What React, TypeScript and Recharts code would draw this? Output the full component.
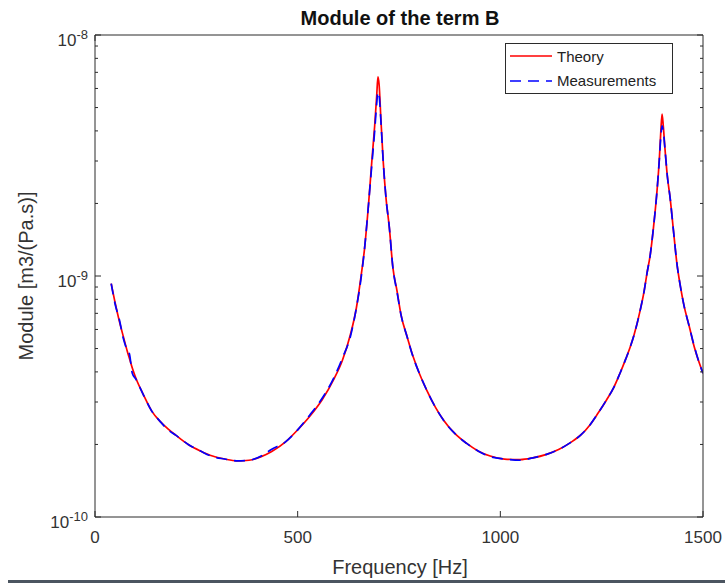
import { Legend, Line, LineChart, XAxis, YAxis } from 'recharts';

// frequency [Hz]
const FREQ = [
  40, 50, 60, 70, 80, 85, 92, 100, 120, 140,
  160, 180, 200, 230, 260, 290, 320, 350, 380, 410,
  436, 470, 500, 530, 560, 590, 610, 630, 645, 655,
  665, 675, 683, 690, 695, 698, 701, 705, 711, 718,
  726, 735, 745, 755, 770, 785, 800, 818, 840, 860,
  890, 917, 945, 975, 1010, 1049, 1080, 1114, 1145, 1172,
  1200, 1221, 1240, 1262, 1280, 1295, 1310, 1320, 1330, 1345,
  1355, 1362, 1370, 1378, 1386, 1392, 1396, 1399, 1402, 1406,
  1412, 1419, 1427, 1435, 1445, 1452, 1468, 1476, 1488, 1500,
];

// module [m3/(Pa.s)]
const THEORY = [
  9.3e-10, 7.7e-10, 6.5e-10, 5.6e-10, 4.85e-10, 4.55e-10, 4.15e-10, 3.8e-10, 3.2e-10, 2.75e-10,
  2.5e-10, 2.32e-10, 2.18e-10, 2.0e-10, 1.88e-10, 1.79e-10, 1.74e-10, 1.71e-10, 1.72e-10, 1.78e-10,
  1.87e-10, 2.05e-10, 2.3e-10, 2.62e-10, 3.06e-10, 3.75e-10, 4.45e-10, 5.7e-10, 7.4e-10, 9.6e-10,
  1.3e-9, 2.0e-9, 3.0e-9, 4.2e-9, 5.6e-9, 6.7e-9, 6.2e-9, 4.6e-9, 3.0e-9, 2.1e-9,
  1.6e-9, 1.08e-9, 8.7e-10, 6.9e-10, 5.6e-10, 4.62e-10, 3.95e-10, 3.37e-10, 2.85e-10, 2.52e-10,
  2.2e-10, 2.02e-10, 1.88e-10, 1.79e-10, 1.74e-10, 1.73e-10, 1.76e-10, 1.82e-10, 1.91e-10, 2.03e-10,
  2.2e-10, 2.41e-10, 2.68e-10, 3.06e-10, 3.45e-10, 3.94e-10, 4.55e-10, 5.05e-10, 5.7e-10, 7.2e-10,
  8.7e-10, 1.03e-9, 1.23e-9, 1.6e-9, 2.2e-9, 3.0e-9, 4.0e-9, 4.7e-9, 4.2e-9, 3.4e-9,
  2.6e-9, 2.1e-9, 1.55e-9, 1.15e-9, 8.9e-10, 7.7e-10, 6.0e-10, 5.26e-10, 4.5e-10, 3.95e-10,
];

const MEASURED = [
  9.3e-10, 7.6e-10, 6.6e-10, 5.5e-10, 4.9e-10, 4.75e-10, 3.95e-10, 3.75e-10, 3.2e-10, 2.75e-10,
  2.5e-10, 2.3e-10, 2.18e-10, 2.0e-10, 1.88e-10, 1.78e-10, 1.74e-10, 1.71e-10, 1.72e-10, 1.79e-10,
  1.91e-10, 2.05e-10, 2.3e-10, 2.65e-10, 3.1e-10, 3.8e-10, 4.55e-10, 5.6e-10, 7.4e-10, 9.4e-10,
  1.3e-9, 2.0e-9, 2.9e-9, 4.0e-9, 5.2e-9, 5.8e-9, 5.6e-9, 4.5e-9, 3.0e-9, 2.1e-9,
  1.6e-9, 1.08e-9, 8.6e-10, 6.9e-10, 5.6e-10, 4.6e-10, 3.95e-10, 3.37e-10, 2.85e-10, 2.52e-10,
  2.2e-10, 2.02e-10, 1.88e-10, 1.78e-10, 1.74e-10, 1.72e-10, 1.76e-10, 1.82e-10, 1.91e-10, 2.03e-10,
  2.2e-10, 2.41e-10, 2.68e-10, 3.06e-10, 3.45e-10, 3.94e-10, 4.55e-10, 5.05e-10, 5.7e-10, 7.2e-10,
  8.7e-10, 1.03e-9, 1.23e-9, 1.6e-9, 2.2e-9, 3.0e-9, 3.8e-9, 4.2e-9, 4.0e-9, 3.4e-9,
  2.6e-9, 2.1e-9, 1.55e-9, 1.15e-9, 8.9e-10, 7.7e-10, 6.0e-10, 5.3e-10, 4.5e-10, 3.95e-10,
];

const X_TICKS = [0, 500, 1000, 1500];
const Y_TICKS = [
  1e-10, 2e-10, 3e-10, 4e-10, 5e-10, 6e-10, 7e-10, 8e-10, 9e-10,
  1e-9, 2e-9, 3e-9, 4e-9, 5e-9, 6e-9, 7e-9, 8e-9, 9e-9, 1e-8,
];

const rows = FREQ.map((f, i) => ({ f, theory: THEORY[i], measured: MEASURED[i] }));

const FONT = '"Liberation Sans", Arial, Helvetica, sans-serif';
const AX = '#2b2b2b';
const TXT = '#333';

const isDecade = (v: number) => {
  const e = Math.log10(v);
  return Math.abs(e - Math.round(e)) < 1e-6;
};

const BottomTick = ({ x, y, payload }: any) => (
  <g>
    <line x1={x} x2={x} y1={y} y2={y - 6} stroke={AX} />
    <text x={x} y={y + 26} textAnchor="middle" fontSize={17} fill={TXT} fontFamily={FONT}>
      {payload.value}
    </text>
  </g>
);

const TopTick = ({ x, y }: any) => <line x1={x} x2={x} y1={y} y2={y + 6} stroke={AX} />;

const LeftTick = ({ x, y, payload }: any) => {
  const major = isDecade(payload.value);
  return (
    <g>
      <line x1={x} x2={x + (major ? 6 : 3)} y1={y} y2={y} stroke={AX} />
      {major && (
        <text x={x - 7} y={y + 11} textAnchor="end" fontSize={17} fill={TXT} fontFamily={FONT}>
          10
          <tspan dy={-7} fontSize={13}>
            {Math.round(Math.log10(payload.value))}
          </tspan>
        </text>
      )}
    </g>
  );
};

const RightTick = ({ x, y, payload }: any) => {
  const major = isDecade(payload.value);
  return <line x1={x} x2={x - (major ? 6 : 3)} y1={y} y2={y} stroke={AX} />;
};

const LegendBox = () => (
  <svg width={168} height={51} style={{ display: 'block' }}>
    <rect x={0.5} y={0.5} width={167} height={50} fill="#fff" stroke={AX} />
    <line x1={5} x2={47} y1={13} y2={13} stroke="#ff0000" strokeWidth={1.7} />
    <text x={52} y={19} fontSize={15} fill="#222" fontFamily={FONT}>
      Theory
    </text>
    <line x1={5} x2={47} y1={38} y2={38} stroke="#0000ff" strokeWidth={1.7} strokeDasharray="11 7" />
    <text x={52} y={43} fontSize={15} fill="#222" fontFamily={FONT}>
      Measurements
    </text>
  </svg>
);

export default function App() {
  return (
    <div style={{ position: 'absolute', left: 0, top: 0, width: 725, height: 583, background: '#fff' }}>
      <LineChart
        width={725}
        height={583}
        data={rows}
        margin={{ top: 30, right: 12, bottom: 36, left: 35 }}
        style={{ fontFamily: FONT }}
      >
        <XAxis
          xAxisId="b"
          dataKey="f"
          type="number"
          domain={[0, 1500]}
          ticks={X_TICKS}
          interval={0}
          allowDataOverflow
          height={30}
          tickSize={0}
          tickMargin={0}
          tickLine={false}
          axisLine={{ stroke: AX }}
          tick={BottomTick}
        />
        <XAxis
          xAxisId="t"
          orientation="top"
          type="number"
          domain={[0, 1500]}
          ticks={X_TICKS}
          interval={0}
          allowDataOverflow
          height={5}
          tickSize={0}
          tickMargin={0}
          tickLine={false}
          axisLine={{ stroke: AX }}
          tick={TopTick}
        />
        <YAxis
          yAxisId="l"
          type="number"
          scale="log"
          domain={[1e-10, 1e-8]}
          ticks={Y_TICKS}
          interval={0}
          allowDataOverflow
          width={60}
          tickSize={0}
          tickMargin={0}
          tickLine={false}
          axisLine={{ stroke: AX }}
          tick={LeftTick}
        />
        <YAxis
          yAxisId="r"
          orientation="right"
          type="number"
          scale="log"
          domain={[1e-10, 1e-8]}
          ticks={Y_TICKS}
          interval={0}
          allowDataOverflow
          width={10}
          tickSize={0}
          tickMargin={0}
          tickLine={false}
          axisLine={{ stroke: AX }}
          tick={RightTick}
        />
        <Line
          xAxisId="b"
          yAxisId="l"
          dataKey="theory"
          name="Theory"
          type="monotone"
          stroke="#ff0000"
          strokeWidth={1.7}
          dot={false}
          isAnimationActive={false}
        />
        <Line
          xAxisId="b"
          yAxisId="l"
          dataKey="measured"
          name="Measurements"
          type="monotone"
          stroke="#0000ff"
          strokeWidth={1.7}
          strokeDasharray="11 7"
          dot={false}
          isAnimationActive={false}
        />
        <Legend
          layout="horizontal"
          verticalAlign="middle"
          align="center"
          wrapperStyle={{ left: 505, top: 43, width: 168, height: 51 }}
          content={LegendBox}
        />
        <text x={400} y={25} textAnchor="middle" fontSize={20} fontWeight="bold" fill="#111" fontFamily={FONT}>
          Module of the term B
        </text>
        <text x={400} y={574} textAnchor="middle" fontSize={20} fill={TXT} fontFamily={FONT}>
          Frequency [Hz]
        </text>
        <text
          x={33}
          y={276}
          textAnchor="middle"
          fontSize={20}
          fill={TXT}
          fontFamily={FONT}
          transform="rotate(-90 33 276)"
        >
          Module [m3/(Pa.s)]
        </text>
      </LineChart>
      <div style={{ position: 'absolute', left: 8, top: 580, width: 717, height: 3, background: '#4b5560' }} />
    </div>
  );
}
